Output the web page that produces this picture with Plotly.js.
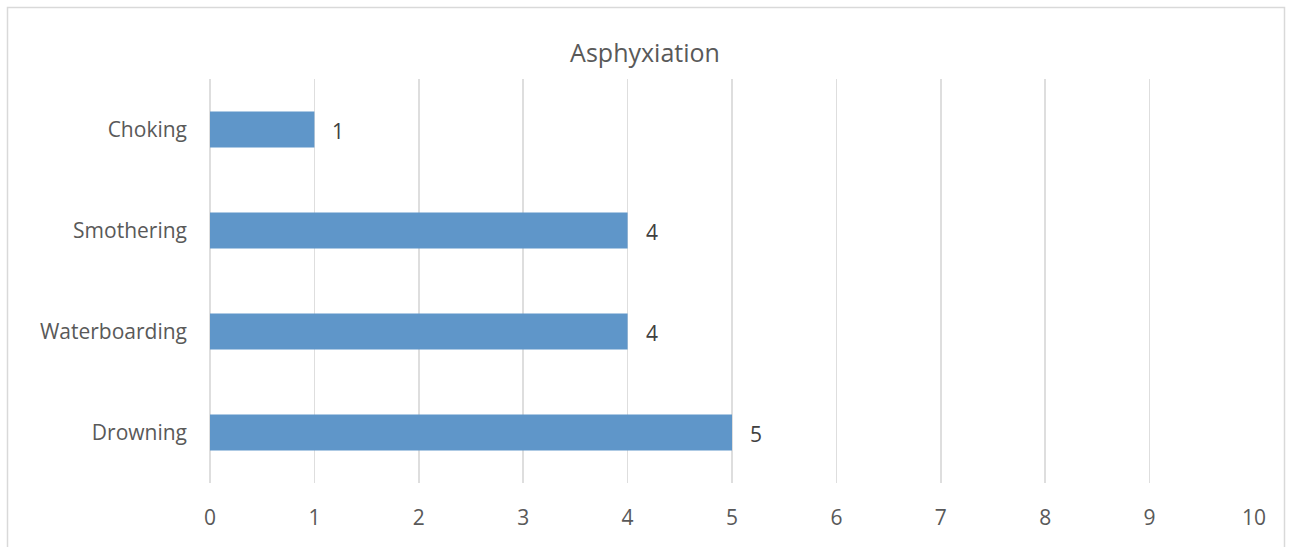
<!DOCTYPE html>
<html>
<head>
<meta charset="utf-8">
<script src="https://cdn.plot.ly/plotly-3.0.1.min.js"></script>
<style>html,body{margin:0;padding:0;background:#fff;}#chart{width:1290px;height:547px;}</style>
</head>
<body>
<div id="chart"></div>
<script>
const categories = ["Drowning", "Waterboarding", "Smothering", "Choking"];
const counts = [5, 4, 4, 1];
const xTicks = [0, 1, 2, 3, 4, 5, 6, 7, 8, 9, 10];
const chartTitle = "Asphyxiation";

const font = "'Open Sans', sans-serif";
const annotations = categories.map((c, i) => ({
  x: counts[i], y: c, xref: "x", yref: "y",
  text: String(counts[i]), showarrow: false,
  xanchor: "left", xshift: 16, yshift: -1,
  font: {family: font, size: 21, color: "#404040"}
}));

const W = 1044, H = 404;
Plotly.newPlot("chart", [{
  type: "bar", orientation: "h",
  x: counts, y: categories,
  marker: {color: "#5f96c9"},
  hoverinfo: "none"
}], {
  width: 1290, height: 547,
  margin: {l: 210, r: 36, t: 79, b: 64, pad: 0},
  paper_bgcolor: "#fff", plot_bgcolor: "#fff",
  bargap: 0.645,
  showlegend: false,
  title: {text: chartTitle, x: 0.5, xref: "container", xanchor: "center", y: 0.903, yref: "container", yanchor: "middle",
          font: {family: font, size: 25, color: "#595959"}},
  xaxis: {range: [0, 10], tickvals: xTicks, ticktext: xTicks.map(String),
          showgrid: true, gridcolor: "#dedede", gridwidth: 1.5,
          zeroline: true, zerolinecolor: "#dedede", zerolinewidth: 1.5,
          showline: false, ticks: "", ticklabelstandoff: 20, fixedrange: true,
          tickfont: {family: font, size: 21, color: "#595959"}},
  yaxis: {type: "category", categoryorder: "array", categoryarray: categories,
          showgrid: false, zeroline: false, showline: false, ticks: "",
          ticklabelstandoff: 22, fixedrange: true,
          tickfont: {family: font, size: 21, color: "#595959"}},
  annotations: annotations,
  shapes: [{type: "rect", xref: "paper", yref: "paper",
            x0: (7.5 - 210) / W, x1: (1284.5 - 210) / W,
            y0: (483 - 570) / H, y1: (483 - 7.5) / H,
            line: {color: "#d9d9d9", width: 1.5}, fillcolor: "rgba(0,0,0,0)", layer: "below"}]
}, {displayModeBar: false, staticPlot: true});
</script>
</body>
</html>
